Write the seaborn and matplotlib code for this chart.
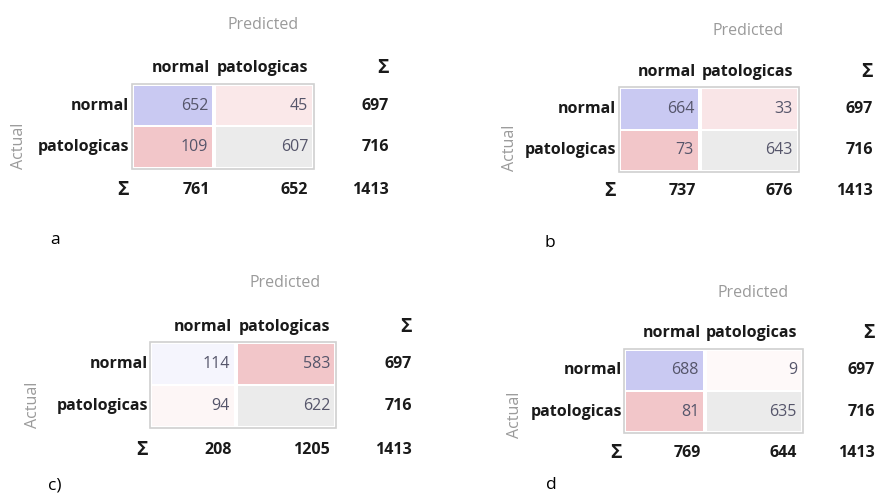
import numpy as np
import matplotlib
matplotlib.use("Agg")
import matplotlib.pyplot as plt
import matplotlib.transforms as mtransforms
from matplotlib.colors import LinearSegmentedColormap, ListedColormap
from matplotlib.patches import Rectangle
import seaborn as sns

# Confusion matrices (rows = actual, columns = predicted)
classes = ["normal", "patologicas"]
panel_labels = ["a", "b", "c)", "d"]
cm_a = [[652, 45], [109, 607]]
cm_b = [[664, 33], [73, 643]]
cm_c = [[114, 583], [94, 622]]
cm_d = [[688, 9], [81, 635]]
matrices = [cm_a, cm_b, cm_c, cm_d]

sns.set_theme(style="white")
plt.rcParams["font.family"] = ["Open Sans", "DejaVu Sans"]

W, H = 877, 496
fig = plt.figure(figsize=(W / 100, H / 100), dpi=100)
fig.patch.set_facecolor("white")


def fx(x):
    return x / W


def fy(y):
    return 1 - y / H


# Pixel layout of each table: block edges (left, column split, right, top, bottom),
# header row y, totals column right edge, totals row y, row label right edge,
# "Predicted" centre, "Actual" centre, panel letter position.
layouts = [
    dict(L=133, M=214, R=313, T=85, B=168, hy=68, tr=389, sy=190, rl=129,
         pred=(263, 25), act=(19, 146), let=(50, 240)),
    dict(L=620, M=700, R=798, T=88, B=171, hy=72, tr=873, sy=191, rl=616,
         pred=(748, 31), act=(510, 148), let=(544, 243)),
    dict(L=151, M=236, R=335, T=343, B=427, hy=327, tr=412, sy=450, rl=148,
         pred=(285, 283), act=(33, 405), let=(48, 485)),
    dict(L=625, M=705, R=802, T=350, B=432, hy=333, tr=875, sy=453, rl=622,
         pred=(753, 293), act=(515, 415), let=(546, 485)),
]

# Diagonal hits on the blue side, errors on the red side, white in the middle
shade_cmap = LinearSegmentedColormap.from_list(
    "hits_errors", ["#c9c9f2", "#ffffff", "#f2c6c9"])
sel_cmap = ListedColormap(["#ebebeb"])

FS = 11.5
HEAD = "#1a1a1a"
NUM = "#55556a"
SOFT = "#9a9a9a"
SIGMA_FS = 14

for cm, lay, letter in zip(matrices, layouts, panel_labels):
    cm = np.array(cm)
    n = cm.shape[0]
    diag = np.eye(n, dtype=bool)
    shade = np.where(diag, -cm / cm[diag].max(), cm / cm[~diag].max())
    sel_mask = np.ones_like(cm, dtype=bool)
    sel_mask[n - 1, n - 1] = False
    main_mask = ~sel_mask

    col_edges = [(lay["L"], lay["M"] - 1), (lay["M"] + 1, lay["R"])]
    row_mid = (lay["T"] + lay["B"]) / 2
    row_y = [(lay["T"] + row_mid) / 2, (row_mid + lay["B"]) / 2]

    for j, (x0, x1) in enumerate(col_edges):
        ax = fig.add_axes([fx(x0), fy(lay["B"]), (x1 - x0) / W,
                           (lay["B"] - lay["T"]) / H])
        sns.heatmap(shade[:, j:j + 1], ax=ax, cmap=shade_cmap, vmin=-1, vmax=1,
                    mask=main_mask[:, j:j + 1], cbar=False, linewidths=1.2,
                    linecolor="white", xticklabels=False, yticklabels=False)
        sns.heatmap(np.zeros((n, 1)), ax=ax, cmap=sel_cmap,
                    mask=sel_mask[:, j:j + 1], cbar=False, linewidths=1.2,
                    linecolor="white", xticklabels=False, yticklabels=False)
        for s in ax.spines.values():
            s.set_visible(False)
        tr = mtransforms.offset_copy(ax.transData, fig=fig, x=-5, y=0,
                                     units="dots")
        for i in range(n):
            ax.text(1, i + 0.5, str(cm[i, j]), ha="right", va="center",
                    fontsize=FS, color=NUM, transform=tr)

    # frame around the matrix block
    fig.patches.append(Rectangle((fx(lay["L"] - 1), fy(lay["B"] + 1)),
                                 (lay["R"] - lay["L"] + 2) / W,
                                 (lay["B"] - lay["T"] + 2) / H,
                                 transform=fig.transFigure, fill=False,
                                 edgecolor="#d0d0d0", lw=1.2))

    # column headers
    col_right = [lay["M"] - 4, lay["R"] - 5]
    for j, name in enumerate(classes):
        fig.text(fx(col_right[j]), fy(lay["hy"]), name, ha="right",
                 va="center", fontsize=FS, fontweight="bold", color=HEAD)
    fig.text(fx(lay["tr"]), fy(lay["hy"]), "Σ", ha="right", va="center",
             fontsize=SIGMA_FS, fontweight="bold", color=HEAD)

    # row headers and row totals
    row_tot = cm.sum(axis=1)
    for i, name in enumerate(classes):
        fig.text(fx(lay["rl"]), fy(row_y[i]), name, ha="right", va="center",
                 fontsize=FS, fontweight="bold", color=HEAD)
        fig.text(fx(lay["tr"]), fy(row_y[i]), str(row_tot[i]), ha="right",
                 va="center", fontsize=FS, fontweight="bold", color=HEAD)

    # column totals and grand total
    col_tot = cm.sum(axis=0)
    fig.text(fx(lay["rl"]), fy(lay["sy"]), "Σ", ha="right", va="center",
             fontsize=SIGMA_FS, fontweight="bold", color=HEAD)
    for j in range(n):
        fig.text(fx(col_right[j]), fy(lay["sy"]), str(col_tot[j]), ha="right",
                 va="center", fontsize=FS, fontweight="bold", color=HEAD)
    fig.text(fx(lay["tr"]), fy(lay["sy"]), str(cm.sum()), ha="right",
             va="center", fontsize=FS, fontweight="bold", color=HEAD)

    # axis titles
    fig.text(fx(lay["pred"][0]), fy(lay["pred"][1]), "Predicted", ha="center",
             va="center", fontsize=FS, color=SOFT)
    fig.text(fx(lay["act"][0]), fy(lay["act"][1]), "Actual", ha="center",
             va="center", rotation=90, fontsize=FS, color=SOFT)

    # panel letter
    fig.text(fx(lay["let"][0]), fy(lay["let"][1]), letter, ha="left",
             va="center", fontsize=12.5, color="black")

fig.savefig("out.png", dpi=100, facecolor="white")
